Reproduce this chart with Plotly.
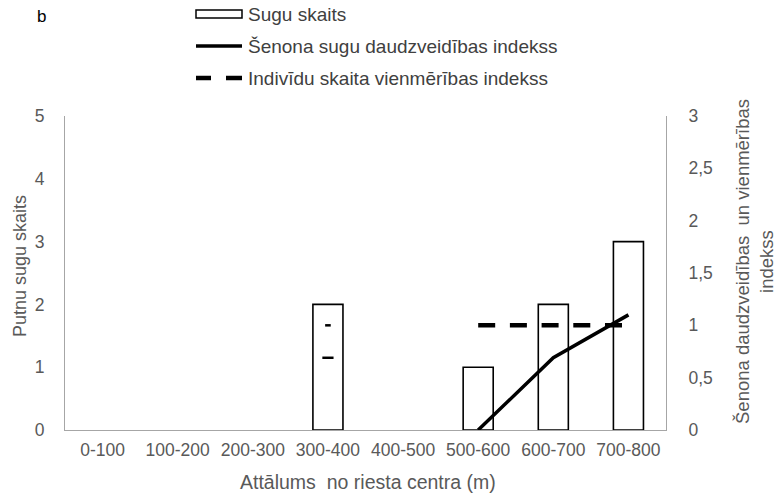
import plotly.graph_objects as go

categories = ["0-100", "100-200", "200-300", "300-400", "400-500", "500-600", "600-700", "700-800"]
species_count = [0, 0, 0, 2, 0, 1, 2, 3]
shannon_index = [None, None, None, 0.69, None, 0.0, 0.69, 1.10]
evenness_index = [None, None, None, 1.0, None, 1.0, 1.0, 1.0]

legend_labels = ["Sugu skaits", "Šenona sugu daudzveidības indekss", "Indivīdu skaita vienmērības indekss"]

FONT = "Liberation Sans, Arial, sans-serif"
GRAY = "#595959"
AXIS = "#a6a6a6"

# plot area in pixels (fixed margins)
W, H = 783, 495
L, R, T, B = 65, 117, 116, 65
PW, PH = W - L - R, H - T - B


def px(x):
    return (x - L) / PW


def py(y):
    return (H - B - y) / PH


def isolated(vals):
    xs, ys = [], []
    for i, v in enumerate(vals):
        if v is None:
            continue
        prev_ok = i > 0 and vals[i - 1] is not None
        next_ok = i < len(vals) - 1 and vals[i + 1] is not None
        if not prev_ok and not next_ok:
            xs.append(categories[i])
            ys.append(v)
    return xs, ys


fig = go.Figure()
fig.add_trace(go.Bar(
    x=categories, y=species_count, name=legend_labels[0], showlegend=False,
    marker=dict(color="white", line=dict(color="black",
                                         width=[1.6 if v else 0 for v in species_count])),
    yaxis="y",
))
fig.add_trace(go.Scatter(
    x=categories, y=shannon_index, name=legend_labels[1], showlegend=False,
    mode="lines", line=dict(color="black", width=3.5), yaxis="y2", connectgaps=False,
))
fig.add_trace(go.Scatter(
    x=categories, y=evenness_index, name=legend_labels[2], showlegend=False,
    mode="lines", line=dict(color="black", width=4.5, dash="17px,14.7px"), yaxis="y2",
    connectgaps=False,
))
sx, sy = isolated(shannon_index)
fig.add_trace(go.Scatter(
    x=sx, y=sy, mode="markers", showlegend=False, yaxis="y2",
    marker=dict(symbol="line-ew", size=8, line=dict(color="black", width=2.5)),
))
ex, ey = isolated(evenness_index)
fig.add_trace(go.Scatter(
    x=ex, y=ey, mode="markers", showlegend=False, yaxis="y2",
    marker=dict(symbol="line-ew", size=4, line=dict(color="black", width=2.5)),
))

# manual legend (symbols + text)
shapes = [
    dict(type="rect", xref="paper", yref="paper", x0=px(196), x1=px(242), y0=py(10), y1=py(18),
         line=dict(color="black", width=1.5), fillcolor="white"),
    dict(type="line", xref="paper", yref="paper", x0=px(196), x1=px(242), y0=py(46), y1=py(46),
         line=dict(color="black", width=3.5)),
    dict(type="line", xref="paper", yref="paper", x0=px(196), x1=px(211), y0=py(78), y1=py(78),
         line=dict(color="black", width=4.5)),
    dict(type="line", xref="paper", yref="paper", x0=px(226), x1=px(242), y0=py(78), y1=py(78),
         line=dict(color="black", width=4.5)),
]
annotations = []
for lab, yy in zip(legend_labels, [14, 46, 78]):
    annotations.append(dict(text=lab, x=px(246), y=py(yy), xref="paper", yref="paper",
                            xanchor="left", yanchor="middle", showarrow=False,
                            font=dict(size=19, color="#404040")))
annotations.append(dict(text="b", x=px(41), y=py(16), xref="paper", yref="paper",
                        xanchor="center", yanchor="middle", showarrow=False,
                        font=dict(size=17, color="black")))
annotations.append(dict(text="Putnu sugu skaits", x=px(20), y=py(266), xref="paper", yref="paper",
                        xanchor="center", yanchor="middle", showarrow=False, textangle=-90,
                        font=dict(size=18, color=GRAY)))
annotations.append(dict(text="Šenona daudzveidības  un vienmērības<br>indekss", x=px(754), y=py(262),
                        xref="paper", yref="paper", xanchor="center", yanchor="middle",
                        showarrow=False, textangle=-90, font=dict(size=18.5, color=GRAY)))
annotations.append(dict(text="Attālums  no riesta centra (m)", x=px(368), y=py(482),
                        xref="paper", yref="paper", xanchor="center", yanchor="middle",
                        showarrow=False, font=dict(size=19.5, color=GRAY)))

fig.update_layout(
    width=W, height=H,
    margin=dict(l=L, r=R, t=T, b=B, autoexpand=False),
    paper_bgcolor="white", plot_bgcolor="white",
    font=dict(family=FONT, color=GRAY, size=17.5),
    separators=", ",
    bargap=0.6,
    showlegend=False,
    xaxis=dict(
        type="category", showgrid=False, showline=True, linecolor=AXIS,
        linewidth=1, ticks="", tickfont=dict(size=17.5, color=GRAY), automargin=False,
        ticklabelstandoff=4,
    ),
    yaxis=dict(
        range=[0, 5], dtick=1, showgrid=False, showline=True, linecolor=AXIS, zeroline=False,
        ticks="", tickfont=dict(size=17.5, color=GRAY), ticklabelstandoff=16, automargin=False,
    ),
    yaxis2=dict(
        range=[0, 3], dtick=0.5, overlaying="y", side="right", showgrid=False,
        showline=True, linecolor=AXIS, linewidth=1, zeroline=False, automargin=False,
        ticks="", tickfont=dict(size=17.5, color=GRAY), ticklabelstandoff=18,
    ),
    shapes=shapes,
    annotations=annotations,
)

fig.write_html("out.html",
               config={"displayModeBar": False},
               post_script="document.body.style.margin='0';document.body.style.padding='0';")
